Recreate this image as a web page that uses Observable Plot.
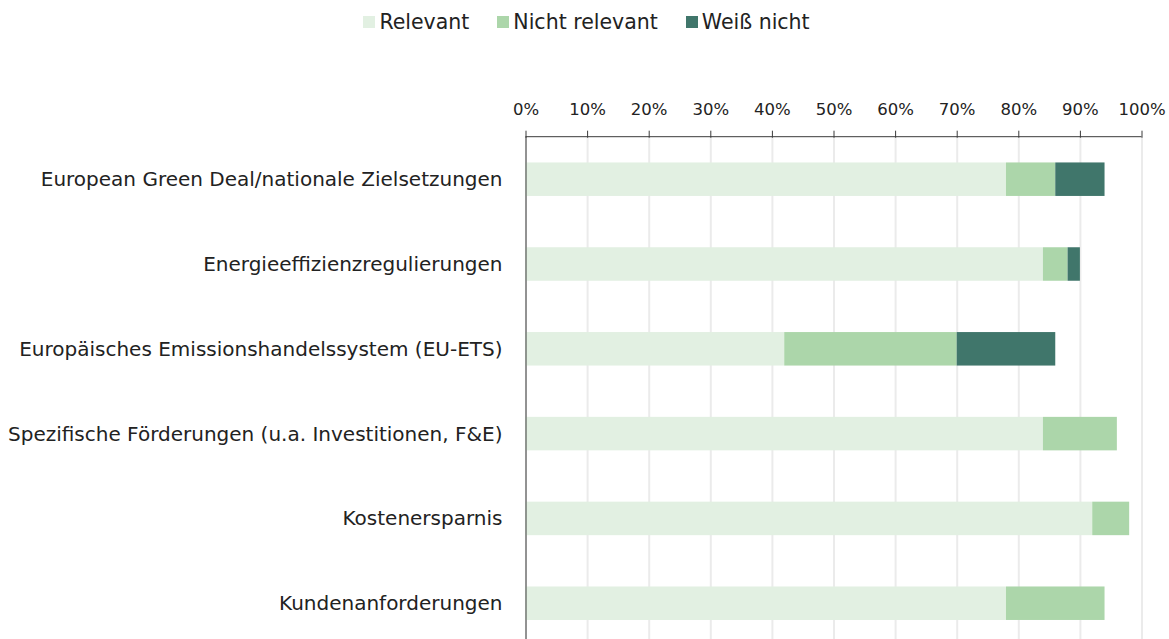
<!DOCTYPE html>
<html>
<head>
<meta charset="utf-8">
<script src="https://cdn.jsdelivr.net/npm/d3@7"></script>
<script src="https://cdn.jsdelivr.net/npm/@observablehq/plot@0.6"></script>
<style>
  body { margin: 0; background: #fff; font-family: "DejaVu Sans", sans-serif; color: #222; }
  #legend { height: 44px; display: flex; justify-content: center; align-items: center; font-size: 20.5px; gap: 28px; padding-left: 4px; }
  #legend .item { display: flex; align-items: center; }
  #legend .sw { width: 12px; height: 12px; margin-right: 4px; }
  #chart svg { display: block; }
</style>
</head>
<body>
<div id="legend"></div>
<div id="chart"></div>
<script>
const categories = [
  "European Green Deal/nationale Zielsetzungen",
  "Energieeffizienzregulierungen",
  "Europäisches Emissionshandelssystem (EU-ETS)",
  "Spezifische Förderungen (u.a. Investitionen, F&E)",
  "Kostenersparnis",
  "Kundenanforderungen"
];
const seriesNames = ["Relevant", "Nicht relevant", "Weiß nicht"];
const relevant      = [78, 84, 42, 84, 92, 78];
const nichtRelevant = [ 8,  4, 28, 12,  6, 16];
const weissNicht    = [ 8,  2, 16,  0,  0,  0];
const seriesColors = ["#e2f0e2", "#acd6aa", "#40766b"];
const tickValues = [0, 10, 20, 30, 40, 50, 60, 70, 80, 90, 100];
const tickLabels = ["0%", "10%", "20%", "30%", "40%", "50%", "60%", "70%", "80%", "90%", "100%"];

const seriesValues = [relevant, nichtRelevant, weissNicht];
const data = [];
categories.forEach((c, i) => {
  seriesNames.forEach((s, j) => {
    data.push({category: c, series: s, value: seriesValues[j][i]});
  });
});

// Legend
const legend = document.getElementById("legend");
seriesNames.forEach((s, j) => {
  const item = document.createElement("span");
  item.className = "item";
  const sw = document.createElement("span");
  sw.className = "sw";
  sw.style.background = seriesColors[j];
  item.appendChild(sw);
  item.appendChild(document.createTextNode(s));
  legend.appendChild(item);
});

const topLine = (index, scales, values, dimensions) => {
  const y = dimensions.marginTop;
  const line = document.createElementNS("http://www.w3.org/2000/svg", "line");
  line.setAttribute("x1", scales.x(0));
  line.setAttribute("x2", scales.x(100));
  line.setAttribute("y1", y);
  line.setAttribute("y2", y);
  line.setAttribute("stroke", "#3a3a3a");
  line.setAttribute("stroke-width", 1);
  return line;
};

const chart = Plot.plot({
  width: 1169,
  height: 595,
  marginTop: 92.7,
  marginBottom: 0,
  marginLeft: 525.5,
  marginRight: 27.5,
  style: {fontFamily: "DejaVu Sans, sans-serif", color: "#222", background: "#fff"},
  x: {domain: [0, 100]},
  y: {domain: categories, paddingInner: 0.605, paddingOuter: 0.264, align: 0.575, round: false},
  color: {domain: seriesNames, range: seriesColors},
  marks: [
    Plot.gridX(tickValues, {stroke: "#ebebeb", strokeOpacity: 1, strokeWidth: 2}),
    Plot.barX(data, Plot.stackX({x: "value", y: "category", fill: "series", order: seriesNames})),
    Plot.ruleX([0], {stroke: "#3a3a3a", strokeWidth: 1}),
    topLine,
    Plot.axisX(tickValues, {anchor: "top", tickSize: 7, tickPadding: 15, fontSize: 16.5, stroke: "#3a3a3a",
      tickFormat: (d) => tickLabels[tickValues.indexOf(d)], label: null}),
    Plot.axisY({anchor: "left", tickSize: 0, tickPadding: 23.5, fontSize: 20, label: null})
  ]
});
document.getElementById("chart").appendChild(chart);
</script>
</body>
</html>
